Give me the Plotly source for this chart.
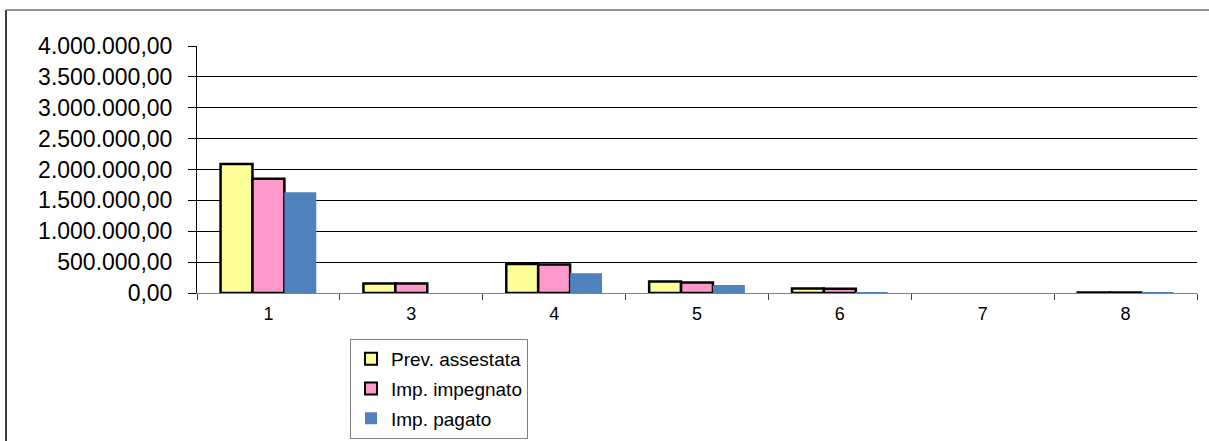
import plotly.graph_objects as go

categories = ["1", "3", "4", "5", "6", "7", "8"]
prev_assestata = [2090000, 155000, 470000, 185000, 72000, None, 8000]
imp_impegnato = [1850000, 152000, 460000, 170000, 70000, None, 7000]
imp_pagato = [1630000, None, 320000, 130000, 5000, None, 2000]
y_ticks = [0, 500000, 1000000, 1500000, 2000000, 2500000, 3000000, 3500000, 4000000]

series = [
    ("Prev. assestata", prev_assestata, "#FFFF99", dict(color="black", width=2.5)),
    ("Imp. impegnato", imp_impegnato, "#FF99CC", dict(color="black", width=2.5)),
    ("Imp. pagato", imp_pagato, "#4F81BD", dict(color="#4F81BD", width=0)),
]

fig = go.Figure()
for i, (name, vals, color, line) in enumerate(series):
    fig.add_trace(go.Bar(
        x=categories, y=vals, name=name, legendgroup=f"g{i}",
        marker=dict(color=color, line=line),
    ))

W, H = 1209, 441
L, R, T, B = 197, 12, 46, 148
pw = W - L - R
ph = H - T - B

def px_to_paper_x(px):
    return (px - L) / pw

def px_to_paper_y(py):
    return (H - B - py) / ph

fig.update_layout(
    width=W, height=H,
    margin=dict(l=L, r=R, t=T, b=B, pad=0, autoexpand=False),
    paper_bgcolor="white", plot_bgcolor="white",
    separators=",.",
    barmode="group", bargap=0.33, bargroupgap=0,
    font=dict(family="Liberation Sans, Arial, sans-serif", color="black", size=18),
    showlegend=True,
    legend=dict(
        x=px_to_paper_x(350), y=px_to_paper_y(339),
        xanchor="left", yanchor="top",
        bgcolor="white", bordercolor="#808080", borderwidth=1,
        font=dict(size=19, color="black"),
        itemsizing="constant",
        traceorder="grouped",
        tracegroupgap=2,
    ),
    xaxis=dict(
        type="category",
        showline=True, linecolor="#808080", linewidth=1,
        ticks="outside", tickson="boundaries", ticklen=6, tickcolor="#404040",
        showgrid=False,
        tickfont=dict(size=18),
        ticklabelstandoff=4,
        fixedrange=True,
    ),
    yaxis=dict(
        range=[0, 4000000],
        tickvals=y_ticks,
        tickformat=",.2f",
        showline=True, linecolor="black", linewidth=1,
        ticks="outside", ticklen=8, tickcolor="black",
        showgrid=True, gridcolor="black", gridwidth=1,
        zeroline=False,
        tickfont=dict(size=23),
        ticklabelstandoff=11,
        fixedrange=True,
    ),
    shapes=[
        dict(type="line", xref="paper", yref="paper",
             x0=px_to_paper_x(6), x1=px_to_paper_x(6),
             y0=px_to_paper_y(10), y1=px_to_paper_y(450),
             line=dict(color="black", width=1.5)),
        dict(type="line", xref="paper", yref="paper",
             x0=px_to_paper_x(6), x1=px_to_paper_x(1215),
             y0=px_to_paper_y(10), y1=px_to_paper_y(10),
             line=dict(color="#707070", width=1.5)),
    ],
)

fig.write_html(
    "out.html",
    config={"displayModeBar": False},
    post_script="document.body.style.margin='0';document.body.style.overflow='hidden';",
)
